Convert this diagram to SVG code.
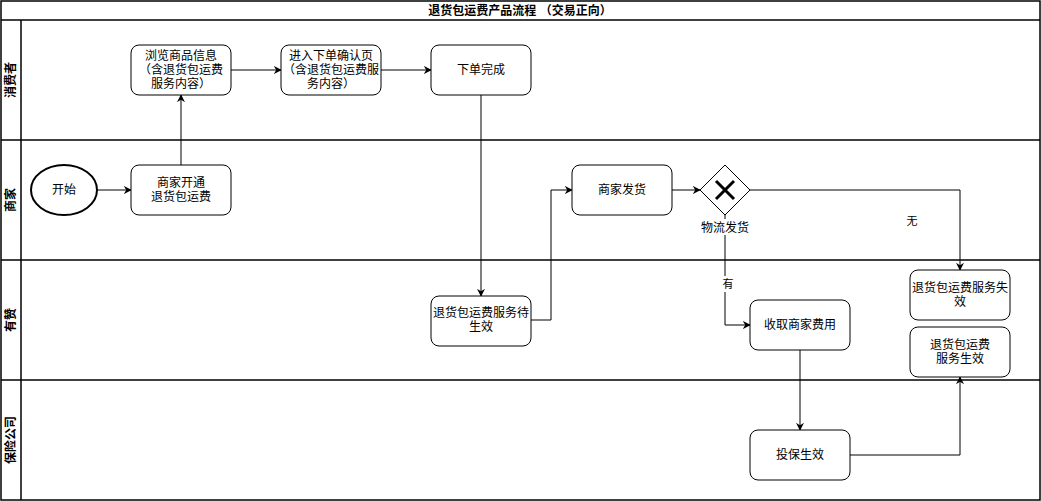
<svg xmlns="http://www.w3.org/2000/svg" width="1041" height="501" viewBox="0 0 1041 501">
<defs>
<style>
.lane{fill:none;stroke:#000;stroke-width:1.5}
.box{fill:#fff;stroke:#000;stroke-width:1}
.t{font-family:"Liberation Sans","Noto Sans CJK SC",sans-serif;font-size:12px;fill:#000;text-anchor:middle}
.b{font-weight:bold}
.c{fill:none;stroke:#000;stroke-width:1}
</style>
<marker id="ah" viewBox="0 0 10 10" refX="9" refY="5" markerWidth="8" markerHeight="8" orient="auto" markerUnits="userSpaceOnUse">
<path d="M0,0 L10,5 L0,10 L3,5 Z" fill="#000"/>
</marker>
</defs>
<rect width="1041" height="501" fill="#fff"/>
<g id="pool">
<rect class="lane" x="1" y="1" width="1039" height="499"/>
<line class="lane" x1="1" y1="20" x2="1040" y2="20"/>
<line class="lane" x1="21" y1="20" x2="21" y2="500"/>
<line class="lane" x1="1" y1="140" x2="1040" y2="140"/>
<line class="lane" x1="1" y1="260" x2="1040" y2="260"/>
<line class="lane" x1="1" y1="380" x2="1040" y2="380"/>
<text class="t b" x="520" y="15">退货包运费产品流程 （交易正向）</text>
<text class="t b" transform="translate(15,80) rotate(-90)">消费者</text>
<text class="t b" transform="translate(15,200) rotate(-90)">商家</text>
<text class="t b" transform="translate(15,320) rotate(-90)">有赞</text>
<text class="t b" transform="translate(15,440) rotate(-90)">保险公司</text>
</g>
<g id="connectors">
<line class="c" x1="97" y1="190" x2="131" y2="190" marker-end="url(#ah)"/>
<line class="c" x1="181" y1="165" x2="181" y2="95" marker-end="url(#ah)"/>
<line class="c" x1="231" y1="70" x2="281" y2="70" marker-end="url(#ah)"/>
<line class="c" x1="381" y1="70" x2="431" y2="70" marker-end="url(#ah)"/>
<line class="c" x1="481" y1="95" x2="481" y2="296" marker-end="url(#ah)"/>
<polyline class="c" points="531,320 551,320 551,190 572,190" marker-end="url(#ah)"/>
<line class="c" x1="671" y1="190" x2="700" y2="190" marker-end="url(#ah)"/>
<polyline class="c" points="750,190 960,190 960,270" marker-end="url(#ah)"/>
<polyline class="c" points="725,215 725,325 750,325" marker-end="url(#ah)"/>
<line class="c" x1="800" y1="350" x2="800" y2="430" marker-end="url(#ah)"/>
<polyline class="c" points="850,455 960,455 960,377" marker-end="url(#ah)"/>
<rect x="903" y="212" width="18" height="16" fill="#fff"/>
<text class="t" x="912" y="225" style="font-size:11px">无</text>
<rect x="719" y="276" width="14" height="16" fill="#fff"/>
<text class="t" x="728" y="288" style="font-size:11px">有</text>
</g>
<g id="start">
<ellipse cx="64" cy="190" rx="33" ry="25" fill="#fff" stroke="#000" stroke-width="2"/>
<text class="t" x="64" y="194">开始</text>
</g>
<g id="browse">
<rect class="box" x="131" y="45" width="100" height="50" rx="8"/>
<text class="t" x="181" y="60">浏览商品信息</text>
<text class="t" x="181" y="74">（含退货包运费</text>
<text class="t" x="181" y="88">服务内容）</text>
</g>
<g id="confirm">
<rect class="box" x="281" y="45" width="100" height="50" rx="8"/>
<text class="t" x="331" y="60">进入下单确认页</text>
<text class="t" x="331" y="74">（含退货包运费服</text>
<text class="t" x="331" y="88">务内容）</text>
</g>
<g id="ordered">
<rect class="box" x="431" y="45" width="100" height="50" rx="8"/>
<text class="t" x="481" y="74">下单完成</text>
</g>
<g id="open">
<rect class="box" x="131" y="165" width="100" height="50" rx="8"/>
<text class="t" x="181" y="187">商家开通</text>
<text class="t" x="181" y="201">退货包运费</text>
</g>
<g id="ship">
<rect class="box" x="572" y="165" width="100" height="50" rx="8"/>
<text class="t" x="622" y="194">商家发货</text>
</g>
<g id="gateway">
<path d="M725,165 L750,190 L725,215 L700,190 Z" fill="#fff" stroke="#000" stroke-width="1"/>
<path d="M716,181 L734,199 M734,181 L716,199" stroke="#000" stroke-width="3"/>
<rect x="700" y="219" width="50" height="16" fill="#fff"/>
<text class="t" x="725" y="232">物流发货</text>
</g>
<g id="pending">
<rect class="box" x="431" y="296" width="100" height="50" rx="8"/>
<text class="t" x="481" y="317">退货包运费服务待</text>
<text class="t" x="481" y="331">生效</text>
</g>
<g id="charge">
<rect class="box" x="750" y="300" width="100" height="50" rx="8"/>
<text class="t" x="800" y="329">收取商家费用</text>
</g>
<g id="invalid">
<rect class="box" x="910" y="270" width="100" height="50" rx="8"/>
<text class="t" x="960" y="292">退货包运费服务失</text>
<text class="t" x="960" y="306">效</text>
</g>
<g id="valid">
<rect class="box" x="910" y="327" width="100" height="50" rx="8"/>
<text class="t" x="960" y="349">退货包运费</text>
<text class="t" x="960" y="363">服务生效</text>
</g>
<g id="insure">
<rect class="box" x="750" y="430" width="100" height="50" rx="8"/>
<text class="t" x="800" y="459">投保生效</text>
</g>
</svg>
